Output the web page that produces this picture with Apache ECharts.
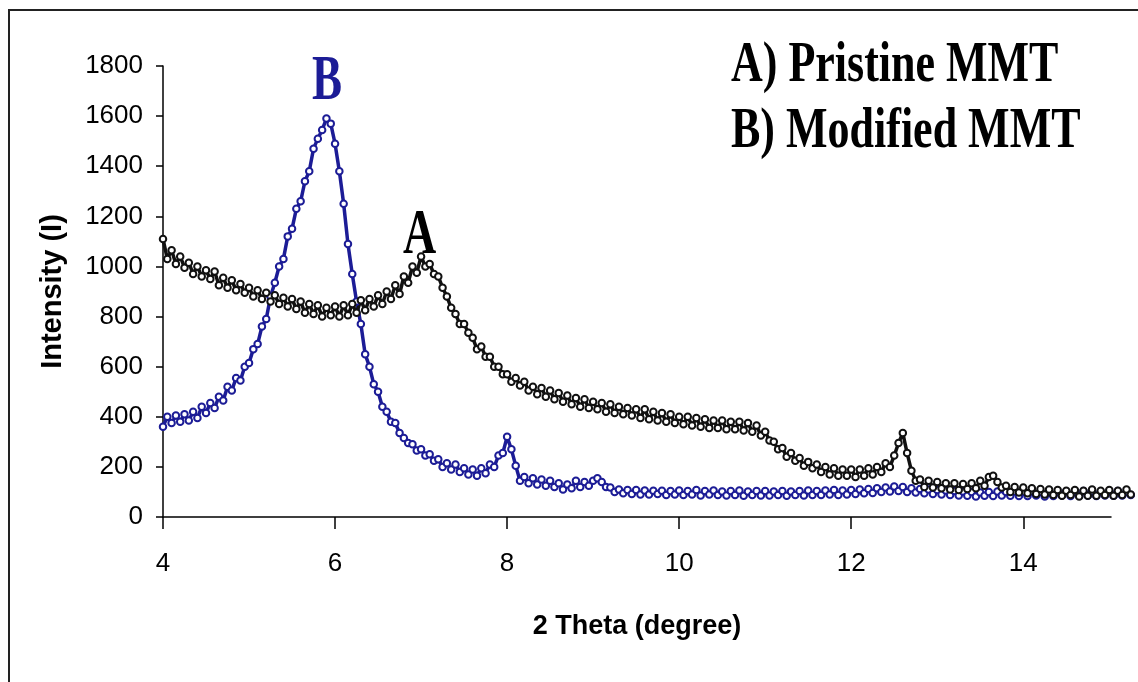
<!DOCTYPE html>
<html>
<head>
<meta charset="utf-8">
<script src="https://cdn.jsdelivr.net/npm/echarts@6/dist/echarts.min.js"></script>
<style>
html,body{margin:0;padding:0;background:#fff;}
#chart{width:1138px;height:682px;}
</style>
</head>
<body>
<div id="chart"></div>
<script>
// 2-theta grid of the scans (degrees)
const xStart = 4.0;
const xStep = 0.05;
const xTicks = [4, 6, 8, 10, 12, 14];
const yTicks = [0, 200, 400, 600, 800, 1000, 1200, 1400, 1600, 1800];

// A) Pristine MMT intensity, read every 0.05 deg from 4.00
const pristine = [
  1110,1030,1065,1010,1040,995,1015,970,1000,960,985,950,980,925,955,915,945,905,930,895,
  915,880,905,870,895,860,885,850,875,840,870,830,860,815,850,810,845,800,835,805,
  840,800,845,805,850,815,865,825,870,840,885,850,900,870,925,890,960,935,1000,975,
  1040,1000,1010,970,960,915,880,835,810,770,770,735,715,670,680,640,640,600,600,570,
  570,540,555,525,540,505,520,490,515,480,505,470,495,460,485,450,475,440,470,435,
  460,430,455,420,450,415,440,410,435,405,430,395,430,390,420,385,415,380,410,375,
  400,370,400,365,395,360,390,355,385,355,385,350,380,350,380,345,375,340,365,325,
  340,305,300,270,275,240,255,225,235,205,220,195,210,180,200,170,195,165,190,165,
  190,160,190,165,195,170,200,180,215,200,245,295,335,255,185,145,150,120,145,118,
  140,115,135,110,135,108,132,112,135,115,145,125,160,165,140,118,125,100,120,98,
  118,95,115,92,112,90,110,88,108,85,105,88,108,82,105,85,110,85,105,88,
  108,85,105,88,110,90
];

// B) Modified MMT intensity, read every 0.05 deg from 4.00
const modified = [
  360,400,375,405,380,410,385,420,395,440,415,455,435,480,465,520,505,555,545,600,
  615,670,690,760,790,880,935,1000,1030,1120,1150,1230,1260,1340,1380,1470,1510,1545,1590,1570,
  1490,1380,1250,1090,970,860,770,650,600,530,500,440,420,380,375,335,315,295,290,265,
  270,245,250,225,230,200,215,190,210,180,195,170,190,165,195,175,210,200,245,255,
  320,270,205,145,160,135,155,130,150,125,145,120,135,110,130,115,145,120,140,125,
  145,155,140,120,118,100,110,95,108,92,108,90,106,90,105,92,105,88,104,90,
  106,88,104,90,108,86,104,90,106,88,102,86,104,88,106,85,102,88,104,86,
  104,86,102,88,104,85,102,88,104,86,106,88,104,88,106,90,108,88,106,90,
  108,92,110,95,112,96,115,100,118,102,122,104,120,100,115,98,112,95,110,92,
  108,90,106,88,104,86,102,85,100,82,98,85,100,84,102,86,100,85,102,84,
  100,84,102,86,100,82,98,84,100,86,102,84,100,85,104,86,102,84,100,86,
  102,85,104,86,100,88
];

const toPairs = arr => arr.map((v, i) => [+(xStart + i * xStep).toFixed(2), v]);

const chart = echarts.init(document.getElementById('chart'), null, {renderer: 'canvas'});
const sans = '"Liberation Sans", Arial, sans-serif';
const serif = '"Liberation Serif", "Times New Roman", serif';
const navy = '#1c1c96';

function serifText(txt, x, y, size, sy, color) {
  return {
    type: 'text', x: x, y: y, scaleY: sy, z: 100,
    style: {
      text: txt, x: 0, y: 0,
      font: 'bold ' + size + 'px ' + serif,
      fill: color,
      align: 'left', verticalAlign: 'middle',
      textAlign: 'left', textVerticalAlign: 'middle'
    }
  };
}

function scanSeries(name, values, color) {
  return {
    name: name, type: 'line', data: toPairs(values), clip: false,
    symbol: 'emptyCircle', symbolSize: 6.5, showSymbol: true,
    lineStyle: {color: color, width: 3.5},
    itemStyle: {color: color, borderColor: color, borderWidth: 1.4}
  };
}

chart.setOption({
  animation: false,
  backgroundColor: '#ffffff',
  grid: {left: 163, right: 27, top: 66, bottom: 165, containLabel: false},
  xAxis: {
    type: 'value', min: 4, max: 15.02, interval: 2,
    name: '2 Theta (degree)', nameLocation: 'middle', nameGap: 96,
    nameTextStyle: {fontFamily: sans, fontWeight: 'bold', fontSize: 27, color: '#000'},
    axisLine: {lineStyle: {color: '#000', width: 1.5}},
    axisTick: {show: true, inside: false, length: 12, lineStyle: {color: '#000', width: 1.5}, customValues: xTicks},
    axisLabel: {fontFamily: sans, fontSize: 26, color: '#000', margin: 34, customValues: xTicks,
                formatter: v => String(v)},
    splitLine: {show: false}
  },
  yAxis: {
    type: 'value', min: 0, max: 1800, interval: 200,
    name: 'Intensity (I)', nameLocation: 'middle', nameGap: 96,
    nameTextStyle: {fontFamily: sans, fontWeight: 'bold', fontSize: 29, color: '#000'},
    axisLine: {show: true, lineStyle: {color: '#000', width: 1.5}},
    axisTick: {show: true, inside: false, length: 7, lineStyle: {color: '#000', width: 1.5}, customValues: yTicks},
    axisLabel: {fontFamily: sans, fontSize: 26, color: '#000', margin: 20, customValues: yTicks,
                formatter: v => String(v)},
    splitLine: {show: false}
  },
  series: [
    scanSeries('B) Modified MMT', modified, navy),
    scanSeries('A) Pristine MMT', pristine, '#111')
  ],
  graphic: [
    {type: 'rect', z: 0, silent: true, shape: {x: 9, y: 10, width: 1200, height: 700},
     style: {fill: 'none', stroke: '#222', lineWidth: 2}},
    serifText('A) Pristine MMT', 731, 66, 44, 1.3, '#000'),
    serifText('B) Modified MMT', 731, 132, 44, 1.3, '#000'),
    serifText('A', 403, 236, 46, 1.4, '#000'),
    serifText('B', 312, 82, 45, 1.42, navy)
  ]
});
</script>
</body>
</html>
